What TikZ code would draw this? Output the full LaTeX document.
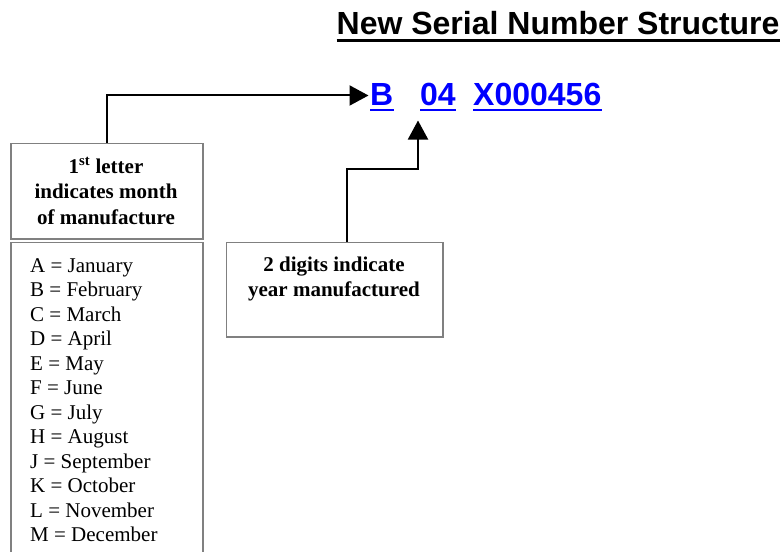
\documentclass[tikz,border=0pt]{standalone}
\usepackage{fontspec}
\setmainfont{Liberation Serif}
\newfontfamily\arialfont{Liberation Sans}
\usetikzlibrary{arrows.meta}
\definecolor{boxgray}{RGB}{128,128,128}
\definecolor{serialblue}{RGB}{0,0,255}
\tikzset{
  graybox/.style={draw=boxgray, line width=1.6pt, inner sep=0pt},
  boldtxt/.style={font=\bfseries\fontsize{21}{25.5}\selectfont, align=center, inner sep=0pt},
  monthtxt/.style={font=\fontsize{21}{24.5}\selectfont, inner sep=0pt, anchor=base west},
  serialtxt/.style={font=\arialfont\bfseries\fontsize{32}{36}\selectfont, text=serialblue, inner sep=0pt, anchor=base west},
  serialline/.style={draw=serialblue, line width=2.6pt},
  arr/.style={line width=2pt, -{Triangle[length=19pt,width=20pt]}}
}
\begin{document}
\begin{tikzpicture}[x=1pt,y=-1pt]
\useasboundingbox (0,0) rectangle (781,551);
% title
\node[font=\arialfont\bfseries\fontsize{32}{36}\selectfont, inner sep=0pt, anchor=base west] (title) at (336.5,35) {New Serial Number Structure};
\draw[line width=3pt] ([yshift=-5.5pt]title.base west) -- ([yshift=-5.5pt]title.base east);
% serial number
\node[serialtxt] (sB) at (370,105) {B};
\node[serialtxt] (s04) at (420,105) {04};
\node[serialtxt] (sX) at (473,105) {X000456};
\foreach \n in {sB,s04,sX}
  \draw[serialline] ([yshift=-5pt]\n.base west) -- ([yshift=-5pt]\n.base east);
% box 1
\node[graybox, anchor=north west, minimum width=192pt, minimum height=95.3pt] (box1) at (10,142.7) {};
\node[boldtxt, anchor=north] (b1txt) at (106,157.4) {1\textsuperscript{st} letter\\indicates month\\of manufacture};
% month box
\node[graybox, anchor=north west, minimum width=192pt, minimum height=340pt] (mbox) at (10,241.7) {};
\foreach [count=\i] \m in {A = January, B = February, C = March, D = April, E = May, F = June, G = July, H = August, J = September, K = October, L = November, M = December}
  \node[monthtxt] (m\i) at (30,{272.3+24.5*(\i-1)}) {\m};
% box 2
\node[graybox, anchor=north west, minimum width=216.3pt, minimum height=94.3pt] (box2) at (225.7,241.7) {};
\node[boldtxt, anchor=north, font=\bfseries\fontsize{21}{25}\selectfont] (b2txt) at (334,257.2) {2 digits indicate\\year manufactured};
% arrows
\coordinate (t1) at ([xshift=-1.5pt,yshift=-1.5pt]sB.west);
\draw[arr] (box1.north) |- (t1);
\coordinate (t2) at ([xshift=-2pt,yshift=-15pt]s04.south west);
\draw[arr] ([xshift=12pt]box2.north) -- ++(0,-73) -| (t2);
\end{tikzpicture}
\end{document}
